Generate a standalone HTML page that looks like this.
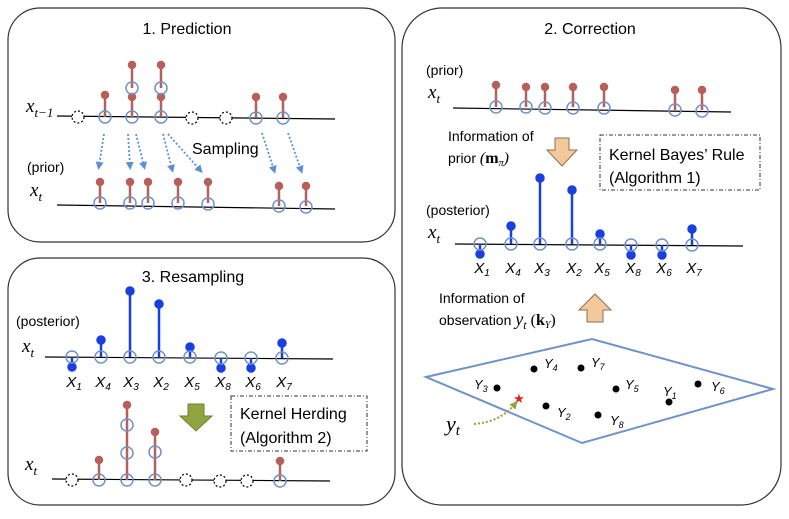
<!DOCTYPE html>
<html><head><meta charset="utf-8"><style>
body{margin:0;background:#fff}
svg text{font-family:"Liberation Sans",sans-serif}
.m{font-family:"Liberation Serif",serif;font-style:italic}
</style></head><body>
<svg width="789" height="514" viewBox="0 0 789 514" xmlns="http://www.w3.org/2000/svg">
<defs>
<marker id="ab" markerWidth="8" markerHeight="8" refX="4" refY="4" orient="auto" markerUnits="userSpaceOnUse"><path d="M0,0 L8,4 L0,8 z" fill="#5b8fd6"/></marker>
<marker id="ag" markerWidth="8" markerHeight="8" refX="4" refY="4" orient="auto" markerUnits="userSpaceOnUse"><path d="M0,0 L8,4 L0,8 z" fill="#8fa640"/></marker>
</defs>
<g fill="none" stroke="#333" stroke-width="1.2">
<rect x="8" y="8" width="387" height="234" rx="32"/>
<rect x="8" y="258" width="387" height="247" rx="32"/>
<rect x="402" y="8" width="379" height="497" rx="40"/>
</g>
<text x="187" y="34" font-size="16" text-anchor="middle">1. Prediction</text>
<text x="193" y="282" font-size="16" text-anchor="middle">3. Resampling</text>
<text x="590" y="34" font-size="16" text-anchor="middle">2. Correction</text>

<!-- Panel 1 -->
<text x="26" y="112" font-size="19" class="m">x<tspan font-size="13" dy="5">t−1</tspan></text>
<line x1="57" y1="116" x2="335" y2="119" stroke="#000" stroke-width="1.2"/>
<g stroke="#b5605a" stroke-width="2.5" fill="#b5605a">
<line x1="105" y1="117" x2="105" y2="96"/><circle cx="105" cy="95" r="3"/>
<line x1="132" y1="117" x2="132" y2="97"/><circle cx="132" cy="97" r="3"/>
<line x1="132" y1="88" x2="132" y2="66"/><circle cx="132" cy="65" r="3"/>
<line x1="161" y1="117" x2="161" y2="97"/><circle cx="161" cy="97" r="3"/>
<line x1="161" y1="88" x2="161" y2="66"/><circle cx="161" cy="65" r="3"/>
<line x1="256" y1="118" x2="256" y2="97"/><circle cx="256" cy="97" r="3"/>
<line x1="283" y1="118" x2="283" y2="97"/><circle cx="283" cy="97" r="3"/>
</g>
<g fill="none" stroke="#6f92c8" stroke-width="1.5">
<circle cx="105" cy="117" r="6"/><circle cx="132" cy="117" r="6"/><circle cx="132" cy="88" r="6"/><circle cx="161" cy="117" r="6"/><circle cx="161" cy="88" r="6"/><circle cx="256" cy="118" r="6"/><circle cx="283" cy="118" r="6"/>
</g>
<g fill="#fff" stroke="#000" stroke-width="1.2" stroke-dasharray="2,2">
<circle cx="78" cy="117" r="6"/><circle cx="192" cy="118" r="6"/><circle cx="226" cy="118" r="6"/>
</g>
<g stroke="#5b8fd6" stroke-width="1.8" stroke-dasharray="2,2" marker-end="url(#ab)">
<line x1="104" y1="134" x2="99" y2="166"/>
<line x1="128" y1="134" x2="130" y2="166"/>
<line x1="136" y1="134" x2="144" y2="166"/>
<line x1="163" y1="134" x2="172" y2="169"/>
<line x1="168" y1="134" x2="200" y2="170"/>
<line x1="262" y1="133" x2="274" y2="170"/>
<line x1="288" y1="133" x2="301" y2="170"/>
</g>
<text x="192" y="154" font-size="16">Sampling</text>
<text x="27" y="172" font-size="14">(prior)</text>
<text x="30" y="196" font-size="19" class="m">x<tspan font-size="13" dy="5">t</tspan></text>
<line x1="57" y1="205" x2="335" y2="209" stroke="#000" stroke-width="1.2"/>
<g stroke="#b5605a" stroke-width="2.5" fill="#b5605a">
<line x1="100" y1="203" x2="100" y2="183"/><circle cx="100" cy="182" r="3"/>
<line x1="130" y1="203" x2="130" y2="183"/><circle cx="130" cy="182" r="3"/>
<line x1="148" y1="203" x2="148" y2="183"/><circle cx="148" cy="182" r="3"/>
<line x1="178" y1="203" x2="178" y2="183"/><circle cx="178" cy="182" r="3"/>
<line x1="208" y1="203" x2="208" y2="183"/><circle cx="208" cy="182" r="3"/>
<line x1="279" y1="206" x2="279" y2="187"/><circle cx="279" cy="186" r="3"/>
<line x1="306" y1="206" x2="306" y2="187"/><circle cx="306" cy="186" r="3"/>
</g>
<g fill="none" stroke="#6f92c8" stroke-width="1.5">
<circle cx="100" cy="203" r="6"/><circle cx="130" cy="203" r="6"/><circle cx="148" cy="203" r="6"/><circle cx="178" cy="203" r="6"/><circle cx="208" cy="204" r="6"/><circle cx="279" cy="206" r="6"/><circle cx="306" cy="207" r="6"/>
</g>

<!-- Panel 3 -->
<text x="16" y="326" font-size="14">(posterior)</text>
<text x="22" y="352" font-size="19" class="m">x<tspan font-size="13" dy="5">t</tspan></text>
<line x1="45" y1="357" x2="333" y2="359" stroke="#000" stroke-width="1.2"/>
<g stroke="#1a3fe0" stroke-width="2.5" fill="#1a3fe0">
<line x1="72" y1="357" x2="72" y2="366"/><circle cx="72" cy="367" r="3.5"/>
<line x1="101" y1="357" x2="101" y2="340"/><circle cx="101" cy="340" r="3.5"/>
<line x1="130" y1="357" x2="130" y2="291"/><circle cx="130" cy="291" r="3.5"/>
<line x1="159" y1="357" x2="159" y2="304"/><circle cx="159" cy="304" r="3.5"/>
<line x1="190" y1="357" x2="190" y2="347"/><circle cx="190" cy="347" r="3.5"/>
<line x1="221" y1="358" x2="221" y2="367"/><circle cx="221" cy="368" r="3.5"/>
<line x1="251" y1="358" x2="251" y2="367"/><circle cx="251" cy="368" r="3.5"/>
<line x1="282" y1="358" x2="282" y2="343"/><circle cx="282" cy="343" r="3.5"/>
</g>
<g fill="#fff" stroke="#6f92c8" stroke-width="1.5" fill-opacity="0">
<circle cx="72" cy="357" r="6"/><circle cx="101" cy="357" r="6"/><circle cx="130" cy="357" r="6"/><circle cx="159" cy="357" r="6"/><circle cx="190" cy="357" r="6"/><circle cx="221" cy="358" r="6"/><circle cx="251" cy="358" r="6"/><circle cx="282" cy="358" r="6"/>
</g>
<g font-size="15" class="m" text-anchor="middle">
<text x="74" y="387">X<tspan font-size="10" dy="3">1</tspan></text>
<text x="103" y="387">X<tspan font-size="10" dy="3">4</tspan></text>
<text x="131" y="387">X<tspan font-size="10" dy="3">3</tspan></text>
<text x="161" y="387">X<tspan font-size="10" dy="3">2</tspan></text>
<text x="192" y="387">X<tspan font-size="10" dy="3">5</tspan></text>
<text x="223" y="387">X<tspan font-size="10" dy="3">8</tspan></text>
<text x="253" y="387">X<tspan font-size="10" dy="3">6</tspan></text>
<text x="284" y="387">X<tspan font-size="10" dy="3">7</tspan></text>
</g>
<path d="M188,404 h16 v12 h8 l-16,15 l-16,-15 h8 z" fill="#8fa640" stroke="#6d8030" stroke-width="1"/>
<rect x="231" y="396" width="136" height="55" fill="none" stroke="#333" stroke-dasharray="4,2,1,2"/>
<text x="240" y="419" font-size="16">Kernel Herding</text>
<text x="240" y="443" font-size="16">(Algorithm 2)</text>
<text x="25" y="470" font-size="19" class="m">x<tspan font-size="13" dy="5">t</tspan></text>
<line x1="52" y1="479" x2="330" y2="481" stroke="#000" stroke-width="1.2"/>
<g stroke="#b5605a" stroke-width="2.5" fill="#b5605a">
<line x1="99" y1="480" x2="99" y2="460"/><circle cx="99" cy="460" r="3"/>
<line x1="127" y1="480" x2="127" y2="406"/><circle cx="127" cy="405" r="3"/>
<line x1="155" y1="480" x2="155" y2="433"/><circle cx="155" cy="432" r="3"/>
<line x1="280" y1="481" x2="280" y2="462"/><circle cx="280" cy="461" r="3"/>
</g>
<g fill="none" stroke="#6f92c8" stroke-width="1.5">
<circle cx="99" cy="480" r="6"/><circle cx="127" cy="480" r="6"/><circle cx="127" cy="453" r="6"/><circle cx="127" cy="425" r="6"/><circle cx="155" cy="480" r="6"/><circle cx="155" cy="452" r="6"/><circle cx="280" cy="481" r="6"/>
</g>
<g fill="#fff" stroke="#000" stroke-width="1.2" stroke-dasharray="2,2">
<circle cx="72" cy="480" r="6"/><circle cx="186" cy="480" r="6"/><circle cx="220" cy="481" r="6"/><circle cx="247" cy="481" r="6"/>
</g>

<!-- Panel 2 -->
<text x="426" y="75" font-size="14">(prior)</text>
<text x="428" y="98" font-size="19" class="m">x<tspan font-size="13" dy="5">t</tspan></text>
<line x1="453" y1="108" x2="731" y2="112" stroke="#000" stroke-width="1.2"/>
<g stroke="#b5605a" stroke-width="2.5" fill="#b5605a">
<line x1="496" y1="107" x2="496" y2="86"/><circle cx="496" cy="85" r="3"/>
<line x1="526" y1="107" x2="526" y2="88"/><circle cx="526" cy="87" r="3"/>
<line x1="545" y1="107" x2="545" y2="88"/><circle cx="545" cy="87" r="3"/>
<line x1="573" y1="107" x2="573" y2="88"/><circle cx="573" cy="87" r="3"/>
<line x1="604" y1="107" x2="604" y2="88"/><circle cx="604" cy="87" r="3"/>
<line x1="675" y1="110" x2="675" y2="91"/><circle cx="675" cy="90" r="3"/>
<line x1="702" y1="110" x2="702" y2="91"/><circle cx="702" cy="90" r="3"/>
</g>
<g fill="none" stroke="#6f92c8" stroke-width="1.5">
<circle cx="496" cy="107" r="6"/><circle cx="526" cy="107" r="6"/><circle cx="545" cy="108" r="6"/><circle cx="573" cy="108" r="6"/><circle cx="604" cy="108" r="6"/><circle cx="675" cy="110" r="6"/><circle cx="702" cy="111" r="6"/>
</g>
<text x="448" y="141" font-size="14">Information of</text>
<text x="448" y="163" font-size="14">prior <tspan class="m" font-style="normal" font-size="16">(<tspan font-weight="bold" font-style="normal">m</tspan><tspan font-size="10" dy="3">π</tspan><tspan dy="-3">)</tspan></tspan></text>
<path d="M555,138 h14 v12 h8 l-15,16 l-15,-16 h8 z" fill="#f3c89b" stroke="#8a7050" stroke-width="1"/>
<rect x="600" y="135" width="160" height="55" fill="none" stroke="#333" stroke-dasharray="4,2,1,2"/>
<text x="609" y="160" font-size="16">Kernel Bayes’ Rule</text>
<text x="609" y="183" font-size="16">(Algorithm 1)</text>
<text x="426" y="215" font-size="14">(posterior)</text>
<text x="428" y="238" font-size="19" class="m">x<tspan font-size="13" dy="5">t</tspan></text>
<line x1="455" y1="244" x2="743" y2="246" stroke="#000" stroke-width="1.2"/>
<g stroke="#1a3fe0" stroke-width="2.5" fill="#1a3fe0">
<line x1="480" y1="244" x2="480" y2="253"/><circle cx="480" cy="254" r="3.5"/>
<line x1="511" y1="244" x2="511" y2="226"/><circle cx="511" cy="226" r="3.5"/>
<line x1="540" y1="244" x2="540" y2="178"/><circle cx="540" cy="178" r="3.5"/>
<line x1="572" y1="244" x2="572" y2="190"/><circle cx="572" cy="190" r="3.5"/>
<line x1="600" y1="244" x2="600" y2="234"/><circle cx="600" cy="234" r="3.5"/>
<line x1="631" y1="245" x2="631" y2="254"/><circle cx="631" cy="255" r="3.5"/>
<line x1="662" y1="245" x2="662" y2="254"/><circle cx="662" cy="255" r="3.5"/>
<line x1="692" y1="245" x2="692" y2="230"/><circle cx="692" cy="229" r="3.5"/>
</g>
<g fill="none" stroke="#6f92c8" stroke-width="1.5">
<circle cx="480" cy="244" r="6"/><circle cx="511" cy="244" r="6"/><circle cx="540" cy="244" r="6"/><circle cx="572" cy="244" r="6"/><circle cx="600" cy="244" r="6"/><circle cx="631" cy="245" r="6"/><circle cx="662" cy="245" r="6"/><circle cx="692" cy="245" r="6"/>
</g>
<g font-size="15" class="m" text-anchor="middle">
<text x="482" y="273">X<tspan font-size="10" dy="3">1</tspan></text>
<text x="513" y="273">X<tspan font-size="10" dy="3">4</tspan></text>
<text x="542" y="273">X<tspan font-size="10" dy="3">3</tspan></text>
<text x="574" y="273">X<tspan font-size="10" dy="3">2</tspan></text>
<text x="602" y="273">X<tspan font-size="10" dy="3">5</tspan></text>
<text x="633" y="273">X<tspan font-size="10" dy="3">8</tspan></text>
<text x="664" y="273">X<tspan font-size="10" dy="3">6</tspan></text>
<text x="694" y="273">X<tspan font-size="10" dy="3">7</tspan></text>
</g>
<text x="439" y="303" font-size="14">Information of</text>
<text x="439" y="325" font-size="14">observation <tspan class="m" font-size="18">y<tspan font-size="12" dy="4">t</tspan></tspan><tspan font-family="Liberation Serif" font-size="16" dy="-4"> (<tspan font-weight="bold">k</tspan><tspan font-size="10" dy="3" font-style="italic">Y</tspan><tspan dy="-3">)</tspan></tspan></text>
<path d="M587,322 v-12 h-8 l16,-16 l16,16 h-8 v12 z" fill="#f3c89b" stroke="#8a7050" stroke-width="1"/>
<polygon points="426,377 592,339 773,389 582,443" fill="none" stroke="#6f92c8" stroke-width="2"/>
<g fill="#000">
<circle cx="534" cy="369" r="3.5"/><circle cx="581" cy="368" r="3.5"/><circle cx="497" cy="388" r="3.5"/><circle cx="616" cy="389" r="3.5"/><circle cx="669" cy="402" r="3.5"/><circle cx="698" cy="384" r="3.5"/><circle cx="546" cy="406" r="3.5"/><circle cx="598" cy="415" r="3.5"/>
</g>
<g font-size="13" class="m">
<text x="544" y="368">Y<tspan font-size="9" dy="3">4</tspan></text>
<text x="591" y="367">Y<tspan font-size="9" dy="3">7</tspan></text>
<text x="474" y="389">Y<tspan font-size="9" dy="3">3</tspan></text>
<text x="625" y="389">Y<tspan font-size="9" dy="3">5</tspan></text>
<text x="663" y="396">Y<tspan font-size="9" dy="3">1</tspan></text>
<text x="711" y="391">Y<tspan font-size="9" dy="3">6</tspan></text>
<text x="557" y="417">Y<tspan font-size="9" dy="3">2</tspan></text>
<text x="610" y="425">Y<tspan font-size="9" dy="3">8</tspan></text>
</g>
<path d="M474,424 Q500,422 515,404" fill="none" stroke="#8fa640" stroke-width="2" stroke-dasharray="2,2" marker-end="url(#ag)"/>
<text x="519" y="403" font-size="13" fill="#e02020" text-anchor="middle">★</text>
<text x="446" y="431" font-size="22" class="m">y<tspan font-size="15" dy="4">t</tspan></text>
</svg>
</body></html>
